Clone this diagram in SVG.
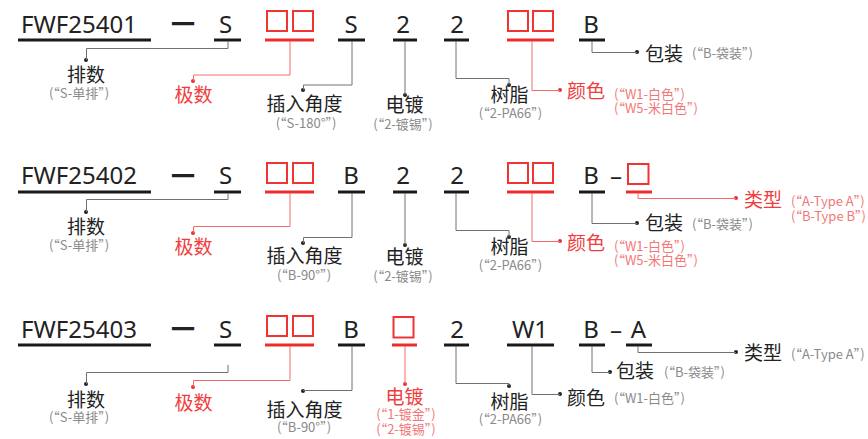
<svg xmlns="http://www.w3.org/2000/svg" width="868" height="439" viewBox="0 0 868 439">
<style>
text{font-family:"Noto Sans CJK SC",sans-serif}
.code{font-family:"Noto Sans","Noto Sans CJK SC",sans-serif;font-size:24px;fill:#222;text-anchor:middle}
.dash{font-size:24px;fill:#222;text-anchor:middle;font-weight:700}
.box{fill:none;stroke:#f03434;stroke-width:2}
.lbl{font-size:19px;fill:#222;text-anchor:middle}
.lbs{font-size:19px;fill:#222}
.sub{font-size:13px;fill:#8a8a8a;text-anchor:middle}
.subs{font-size:13px;fill:#8a8a8a}
.r{fill:#f03c3c}
.rs{fill:#f27878}
.bar{stroke:#1a1a1a;stroke-width:3}
.rbar{stroke:#ee2c2c;stroke-width:3}
.cn{fill:none;stroke:#707070;stroke-width:1}
.rcn{fill:none;stroke:#f46a6a;stroke-width:1}
.dot{fill:#222}
.rdot{fill:#ee2c2c}
</style>

<g id="row1">
<g id="r1-code"><text class="code" x="79" y="33">FWF25401</text><text class="dash" x="183" y="33">一</text><line class="bar" x1="18" y1="40" x2="151" y2="40"/></g>
<g id="r1-s"><text class="code" x="225.5" y="33">S</text><line class="bar" x1="214" y1="40" x2="241" y2="40"/></g>
<g id="r1-poles"><rect class="box" x="267" y="11" width="20" height="20"/><rect class="box" x="293" y="11" width="20" height="20"/><line class="rbar" x1="265" y1="40" x2="314" y2="40"/></g>
<g id="r1-angle"><text class="code" x="351" y="33">S</text><line class="bar" x1="338" y1="40" x2="365" y2="40"/></g>
<g id="r1-plating"><text class="code" x="403" y="33">2</text><line class="bar" x1="393" y1="40" x2="417" y2="40"/></g>
<g id="r1-resin"><text class="code" x="457" y="33">2</text><line class="bar" x1="444" y1="40" x2="469" y2="40"/></g>
<g id="r1-color"><rect class="box" x="508" y="11" width="20" height="20"/><rect class="box" x="533" y="11" width="20" height="20"/><line class="rbar" x1="507" y1="40" x2="554" y2="40"/></g>
<g id="r1-pack"><text class="code" x="591" y="33">B</text><line class="bar" x1="579" y1="40" x2="605" y2="40"/></g>

<g id="r1-l-rows"><circle class="dot" cx="86" cy="60" r="2"/><text class="lbl" x="86" y="81.5">排数</text><text class="sub" x="79" y="97.5">(“S-单排”)</text></g>
<g id="r1-l-poles"><circle class="rdot" cx="193" cy="81" r="2"/><text class="lbl r" x="193.5" y="102">极数</text></g>
<g id="r1-l-angle"><circle class="dot" cx="303" cy="90" r="2"/><text class="lbl" x="304.5" y="111">插入角度</text><text class="sub" x="306" y="127.5">(“S-180°”)</text></g>
<g id="r1-l-plating"><circle class="dot" cx="405" cy="95" r="2"/><text class="lbl" x="404.5" y="112">电镀</text><text class="sub" x="403" y="128.5">(“2-镀锡”)</text></g>
<g id="r1-l-resin"><circle class="dot" cx="509" cy="85" r="2"/><text class="lbl" x="509.5" y="102">树脂</text><text class="sub" x="510.5" y="117.5">(“2-PA66”)</text></g>
<g id="r1-l-color"><circle class="rdot" cx="560" cy="90" r="2"/><text class="lbs r" x="567" y="98">颜色</text><text class="subs rs" x="614" y="99">(“W1-白色”)</text><text class="subs rs" x="614" y="113">(“W5-米白色”)</text></g>
<g id="r1-l-pack"><circle class="dot" cx="637" cy="52" r="2"/><text class="lbs" x="645" y="60.5">包装</text><text class="subs" x="692" y="57.5">(“B-袋装”)</text></g>
</g>

<g id="row2">
<g id="r2-code"><text class="code" x="79" y="184">FWF25402</text><text class="dash" x="183" y="185">一</text><line class="bar" x1="18" y1="192" x2="151" y2="192"/></g>
<g id="r2-s"><text class="code" x="225.5" y="184">S</text><line class="bar" x1="214" y1="192" x2="241" y2="192"/></g>
<g id="r2-poles"><rect class="box" x="267" y="163" width="20" height="20"/><rect class="box" x="293" y="163" width="20" height="20"/><line class="rbar" x1="265" y1="192" x2="314" y2="192"/></g>
<g id="r2-angle"><text class="code" x="351" y="184">B</text><line class="bar" x1="338" y1="192" x2="365" y2="192"/></g>
<g id="r2-plating"><text class="code" x="403" y="184">2</text><line class="bar" x1="393" y1="192" x2="417" y2="192"/></g>
<g id="r2-resin"><text class="code" x="457" y="184">2</text><line class="bar" x1="444" y1="192" x2="469" y2="192"/></g>
<g id="r2-color"><rect class="box" x="508" y="163" width="20" height="20"/><rect class="box" x="533" y="163" width="20" height="20"/><line class="rbar" x1="507" y1="192" x2="554" y2="192"/></g>
<g id="r2-pack"><text class="code" x="591" y="184">B</text><text class="code" x="616" y="184">–</text><line class="bar" x1="579" y1="192" x2="605" y2="192"/></g>
<g id="r2-type"><rect class="box" x="628" y="164" width="20.5" height="20"/><line class="rbar" x1="626" y1="192" x2="652" y2="192"/></g>

<g id="r2-l-rows"><circle class="dot" cx="86" cy="212" r="2"/><text class="lbl" x="86" y="233.5">排数</text><text class="sub" x="79" y="249.5">(“S-单排”)</text></g>
<g id="r2-l-poles"><circle class="rdot" cx="193" cy="233" r="2"/><text class="lbl r" x="193.5" y="254">极数</text></g>
<g id="r2-l-angle"><circle class="dot" cx="303" cy="243" r="2"/><text class="lbl" x="304.5" y="263">插入角度</text><text class="sub" x="304" y="279.5">(“B-90°”)</text></g>
<g id="r2-l-plating"><circle class="dot" cx="405" cy="245" r="2"/><text class="lbl" x="404.5" y="264">电镀</text><text class="sub" x="403" y="280.5">(“2-镀锡”)</text></g>
<g id="r2-l-resin"><circle class="dot" cx="509" cy="237" r="2"/><text class="lbl" x="509.5" y="254">树脂</text><text class="sub" x="510.5" y="269.5">(“2-PA66”)</text></g>
<g id="r2-l-color"><circle class="rdot" cx="560" cy="241" r="2"/><text class="lbs r" x="567" y="250">颜色</text><text class="subs rs" x="614" y="251">(“W1-白色”)</text><text class="subs rs" x="614" y="265">(“W5-米白色”)</text></g>
<g id="r2-l-pack"><circle class="dot" cx="637" cy="223" r="2"/><text class="lbs" x="645" y="230">包装</text><text class="subs" x="692" y="229">(“B-袋装”)</text></g>
<g id="r2-l-type"><circle class="rdot" cx="736" cy="198" r="2"/><text class="lbs r" x="744" y="206.5">类型</text><text class="subs rs" x="791" y="206">(“A-Type A”)</text><text class="subs rs" x="791" y="221">(“B-Type B”)</text></g>
</g>

<g id="row3">
<g id="r3-code"><text class="code" x="79" y="338">FWF25403</text><text class="dash" x="183" y="338">一</text><line class="bar" x1="18" y1="345" x2="151" y2="345"/></g>
<g id="r3-s"><text class="code" x="225.5" y="338">S</text><line class="bar" x1="214" y1="345" x2="241" y2="345"/></g>
<g id="r3-poles"><rect class="box" x="267" y="316" width="20" height="20"/><rect class="box" x="293" y="316" width="20" height="20"/><line class="rbar" x1="265" y1="345" x2="314" y2="345"/></g>
<g id="r3-angle"><text class="code" x="351" y="338">B</text><line class="bar" x1="338" y1="345" x2="365" y2="345"/></g>
<g id="r3-plating"><rect class="box" x="393.5" y="317" width="20" height="20.5"/><line class="rbar" x1="392" y1="345" x2="417" y2="345"/></g>
<g id="r3-resin"><text class="code" x="457" y="338">2</text><line class="bar" x1="444" y1="345" x2="469" y2="345"/></g>
<g id="r3-color"><text class="code" x="530" y="338">W1</text><line class="bar" x1="507" y1="345" x2="554" y2="345"/></g>
<g id="r3-pack"><text class="code" x="591" y="338">B</text><text class="code" x="616" y="338">–</text><line class="bar" x1="579" y1="345" x2="605" y2="345"/></g>
<g id="r3-type"><text class="code" x="638.5" y="338">A</text><line class="bar" x1="626" y1="345" x2="652" y2="345"/></g>

<g id="r3-l-rows"><circle class="dot" cx="86" cy="384" r="2"/><text class="lbl" x="86" y="406.5">排数</text><text class="sub" x="79" y="421.5">(“S-单排”)</text></g>
<g id="r3-l-poles"><circle class="rdot" cx="193" cy="387" r="2"/><text class="lbl r" x="193.5" y="410">极数</text></g>
<g id="r3-l-angle"><circle class="dot" cx="303" cy="391" r="2"/><text class="lbl" x="304.5" y="416.5">插入角度</text><text class="sub" x="304" y="432">(“B-90°”)</text></g>
<g id="r3-l-plating"><circle class="rdot" cx="405" cy="384" r="2"/><text class="lbl r" x="404.5" y="404">电镀</text><text class="sub rs" x="406" y="419">(“1-镀金”)</text><text class="sub rs" x="406" y="434">(“2-镀锡”)</text></g>
<g id="r3-l-resin"><circle class="dot" cx="509" cy="386" r="2"/><text class="lbl" x="509.5" y="409">树脂</text><text class="sub" x="510.5" y="424">(“2-PA66”)</text></g>
<g id="r3-l-color"><circle class="dot" cx="560" cy="394" r="2"/><text class="lbs" x="567" y="404.5">颜色</text><text class="subs" x="614" y="403">(“W1-白色”)</text></g>
<g id="r3-l-pack"><circle class="dot" cx="610" cy="372" r="2"/><text class="lbs" x="616" y="378">包装</text><text class="subs" x="664" y="377">(“B-袋装”)</text></g>
<g id="r3-l-type"><circle class="dot" cx="736" cy="352" r="2"/><text class="lbs" x="744" y="360">类型</text><text class="subs" x="791" y="359">(“A-Type A”)</text></g>
</g>

<g id="connectors">
<path class="cn" d="M228 41V48.5H86.5V60"/>
<path class="rcn" d="M290 41V75H193.5V81"/>
<path class="cn" d="M352 41V85H303.5V90"/>
<path class="cn" d="M405 41V95"/>
<path class="cn" d="M456 41V78.5H509V85"/>
<path class="rcn" d="M532 41V90.5H560"/>
<path class="cn" d="M592 41V52.5H637"/>

<path class="cn" d="M228 193V199.5H86.5V212"/>
<path class="rcn" d="M290 193V226.5H193.5V233"/>
<path class="cn" d="M352 193V237.5H303.5V243"/>
<path class="cn" d="M405 193V245"/>
<path class="cn" d="M456 193V230.5H509V237"/>
<path class="rcn" d="M532 193V241.5H560"/>
<path class="cn" d="M592 193V223.5H637"/>
<path class="rcn" d="M638 193V198.5H736"/>

<path class="cn" d="M228 365V372.5H86.5V384"/>
<path class="rcn" d="M290 346V380.5H193.5V387"/>
<path class="cn" d="M352 346V390.5H303"/>
<path class="rcn" d="M405 346V384"/>
<path class="cn" d="M456 346V383.5H509V386"/>
<path class="cn" d="M532 346V394.5H560"/>
<path class="cn" d="M592 346V372.5H610"/>
<path class="cn" d="M638 346V352.5H736"/>
</g>
</svg>
